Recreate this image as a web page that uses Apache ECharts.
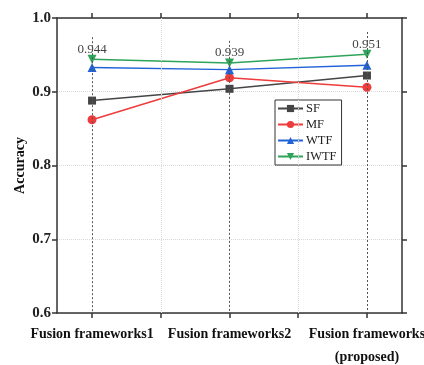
<!DOCTYPE html>
<html><head><meta charset="utf-8">
<script src="https://cdn.jsdelivr.net/npm/echarts@6/dist/echarts.min.js"></script>
<style>html,body{margin:0;padding:0;background:#fff}#c{width:424px;height:365px}</style>
</head><body><div id="c"></div>
<script>
var categories = ['Fusion frameworks1', 'Fusion frameworks2', 'Fusion frameworks\n(proposed)'];
var catPos = [1, 2, 3];
var SF = [0.888, 0.904, 0.922];
var MF = [0.862, 0.919, 0.906];
var WTF = [0.933, 0.930, 0.936];
var IWTF = [0.944, 0.939, 0.951];
var yTicks = [0.6, 0.7, 0.8, 0.9, 1.0];

var F = '"Times New Roman","Liberation Serif",serif';
function pts(arr){ return arr.map(function(v,i){ return [catPos[i], v]; }); }
var axisCol = '#333';

var chart = echarts.init(document.getElementById('c'));
var dropLines = catPos.map(function(x,i){ return [{coord:[x, IWTF[i]+0.03]},{coord:[x,0.6]}]; });
chart.setOption({
  animation:false,
  grid:{left:57, right:22, top:18, bottom:52, outerBoundsMode:'none', containLabel:false},
  legend:{
    orient:'vertical', left:275, top:100, itemWidth:25, itemHeight:9, itemGap:3,
    borderColor:'#333', borderWidth:1, padding:[2,5,2,2],
    textStyle:{fontFamily:F, fontSize:12.5, color:'#222', padding:[0,0,0,-2]},
    data:['SF','MF','WTF','IWTF']
  },
  xAxis:[{
    type:'value', min:0.745, max:3.255, position:'bottom',
    axisLine:{lineStyle:{color:axisCol, width:1.5}},
    axisTick:{show:true, customValues:[1,1.5,2,2.5,3], length:5, lineStyle:{color:axisCol, width:1.5}},
    axisLabel:{customValues:catPos, fontFamily:F, fontWeight:'bold', fontSize:14, color:'#111', margin:10, lineHeight:23,
      formatter:function(v){ var i=catPos.indexOf(Math.round(v)); return i>=0?categories[i]:''; }},
    splitLine:{show:false}
  },{
    type:'value', min:0.745, max:3.255, position:'top',
    axisLine:{show:true, lineStyle:{color:axisCol, width:1.5}},
    axisTick:{show:true, customValues:[1,1.5,2,2.5,3], length:5, lineStyle:{color:axisCol, width:1.5}},
    axisLabel:{show:false}, splitLine:{show:false}
  }],
  yAxis:[{
    type:'value', min:0.6, max:1.0, interval:0.1, position:'left',
    name:'Accuracy', nameLocation:'middle', nameGap:30, nameMoveOverlap:false,
    nameTextStyle:{fontFamily:F, fontWeight:'bold', fontSize:14, color:'#111'},
    axisLine:{show:true, lineStyle:{color:axisCol, width:1.5}},
    axisTick:{show:true, length:5, lineStyle:{color:axisCol, width:1.5}},
    axisLabel:{fontFamily:F, fontWeight:'bold', fontSize:15, color:'#222', margin:6,
      formatter:function(v){ return v.toFixed(1); }},
    splitLine:{show:true, lineStyle:{color:'#d8d8d8', type:'dotted', width:1}}
  },{
    type:'value', min:0.6, max:1.0, interval:0.1, position:'right',
    axisLine:{show:true, lineStyle:{color:axisCol, width:1.5}},
    axisTick:{show:true, length:5, lineStyle:{color:axisCol, width:1.5}},
    axisLabel:{show:false}, splitLine:{show:false}
  }],
  series:[
    {name:'grid', type:'line', data:[], silent:true,
     markLine:{silent:true, symbol:'none', label:{show:false},
       lineStyle:{color:'#d8d8d8', type:'dotted', width:1},
       data:[{xAxis:1.5},{xAxis:2.5}]}},
    {name:'drops', type:'line', data:[], silent:true,
     markLine:{silent:true, symbol:'none', label:{show:false},
       lineStyle:{color:'#555', type:[2,2], width:1},
       data:dropLines}},
    {name:'SF', type:'line', data:pts(SF), symbol:'rect', symbolSize:8,
     itemStyle:{color:'#454545'}, lineStyle:{color:'#454545', width:1.5}},
    {name:'MF', type:'line', data:pts(MF), symbol:'circle', symbolSize:9,
     itemStyle:{color:'#ee3b3b'}, lineStyle:{color:'#ee3b3b', width:1.5}},
    {name:'WTF', type:'line', data:pts(WTF), symbol:'triangle', symbolSize:9,
     itemStyle:{color:'#2163d6'}, lineStyle:{color:'#2163d6', width:1.5}},
    {name:'IWTF', type:'line', data:pts(IWTF), symbol:'triangle', symbolRotate:180, symbolSize:9,
     itemStyle:{color:'#2ea35a'}, lineStyle:{color:'#2ea35a', width:1.5},
     label:{show:true, position:'top', distance:-1, fontFamily:F, fontSize:13, color:'#444',
       formatter:function(p){ return p.value[1].toFixed(3); }}}
  ]
});
</script></body></html>
